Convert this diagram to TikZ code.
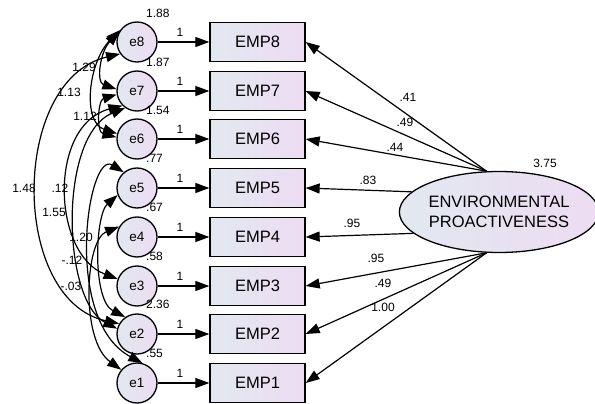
\documentclass[tikz,border=0pt]{standalone}
\usepackage{fontspec}
\setmainfont{Liberation Sans}
\usepackage{tikz}
\usetikzlibrary{shapes,arrows.meta,positioning}

\definecolor{FillL}{RGB}{226,232,240}
\definecolor{FillR}{RGB}{237,220,243}

\begin{document}
\begin{tikzpicture}[x=1pt,y=-1pt]
			\tikzstyle{Err}		= [circle, draw, line width=1.3pt, minimum size=40pt, inner sep=0pt, left color=FillL, right color=FillR, font=\fontsize{13.5}{15}\selectfont]
			\tikzstyle{Obs}		= [rectangle, draw, line width=1.3pt, minimum width=95pt, minimum height=39pt, inner sep=0pt, left color=FillL, right color=FillR, font=\fontsize{16.5}{19}\selectfont]
			\tikzstyle{Latent}	= [ellipse, draw, line width=1.3pt, minimum width=192pt, minimum height=81pt, inner sep=0pt, left color=FillL, right color=FillR, align=center, font=\fontsize{16.5}{20}\selectfont]
			\tikzstyle{Num}		= [inner sep=0pt, font=\fontsize{12}{13}\selectfont]
			\tikzstyle{Arrow}	= [line width=1.2pt, -{Triangle[length=14pt,width=10pt]}]
			\tikzstyle{Cov}		= [line width=1.2pt, {Triangle[length=14pt,width=10pt]}-{Triangle[length=14pt,width=10pt]}]

			\useasboundingbox (0,0) rectangle (595,404);

			% error terms
			\node (e8) at (137,42) [Err] {e8};
			\node (e7) at (137,91) [Err] {e7};
			\node (e6) at (137,139) [Err] {e6};
			\node (e5) at (137,188) [Err] {e5};
			\node (e4) at (137,237) [Err] {e4};
			\node (e3) at (137,286) [Err] {e3};
			\node (e2) at (137,334) [Err] {e2};
			\node (e1) at (137,383) [Err] {e1};

			% indicators
			\node (emp8) at (257.5,42) [Obs] {EMP8};
			\node (emp7) at (257.5,91) [Obs] {EMP7};
			\node (emp6) at (257.5,139) [Obs] {EMP6};
			\node (emp5) at (257.5,188) [Obs] {EMP5};
			\node (emp4) at (257.5,237) [Obs] {EMP4};
			\node (emp3) at (257.5,286) [Obs] {EMP3};
			\node (emp2) at (257.5,334) [Obs] {EMP2};
			\node (emp1) at (257.5,383) [Obs] {EMP1};

			\node (pv) at (499,212) [Latent] {ENVIRONMENTAL\\PROACTIVENESS};

			% variances
			\node (v8) at (146,13) [Num, anchor=west] {1.88};
			\node (v7) at (146,62) [Num, anchor=west] {1.87};
			\node (v6) at (146,110) [Num, anchor=west] {1.54};
			\node (v5) at (146,158) [Num, anchor=west] {.77};
			\node (v4) at (146,207) [Num, anchor=west] {.67};
			\node (v3) at (146,256) [Num, anchor=west] {.58};
			\node (v2) at (146,304) [Num, anchor=west] {2.36};
			\node (v1) at (146,353) [Num, anchor=west] {.55};
			\node (vpv) at (545,163) [Num] {3.75};

			% error paths
			\draw [Arrow] (e8) to (emp8);
			\draw [Arrow] (e7) to (emp7);
			\draw [Arrow] (e6) to (emp6);
			\draw [Arrow] (e5) to (emp5);
			\draw [Arrow] (e4) to (emp4);
			\draw [Arrow] (e3) to (emp3);
			\draw [Arrow] (e2) to (emp2);
			\draw [Arrow] (e1) to (emp1);
			\node (w8) at (180,32) [Num] {1};
			\node (w7) at (180,81) [Num] {1};
			\node (w6) at (180,129) [Num] {1};
			\node (w5) at (180,178) [Num] {1};
			\node (w4) at (180,227) [Num] {1};
			\node (w3) at (180,276) [Num] {1};
			\node (w2) at (180,324) [Num] {1};
			\node (w1) at (180,373) [Num] {1};

			% loadings
			\draw [Arrow] (pv.107) to (emp8.east);
			\draw [Arrow] (pv.107) to (emp7.east);
			\draw [Arrow] (pv.107) to (emp6.east);
			\draw [Arrow] (pv.167) to (emp5.east);
			\draw [Arrow] (pv.194) to (emp4.east);
			\draw [Arrow] (pv.253) to (emp3.east);
			\draw [Arrow] (pv.253) to (emp2.east);
			\draw [Arrow] (pv.253) to (emp1.east);
			\node (l8) at (408,97) [Num] {.41};
			\node (l7) at (405,122) [Num] {.49};
			\node (l6) at (395,147) [Num] {.44};
			\node (l5) at (368,180) [Num] {.83};
			\node (l4) at (352,223) [Num] {.95};
			\node (l3) at (376,258) [Num] {.95};
			\node (l2) at (383,283) [Num] {.49};
			\node (l1) at (383,307) [Num] {1.00};

			% covariances
			\draw [Cov] (e8.150) .. controls (100,52) and (96,82) .. (e7.175);
			\draw [Cov] (e8.145) .. controls (88,62) and (82,122) .. (e6.165);
			\draw [Cov] (e7.190) .. controls (98,100) and (96,132) .. (e6.175);
			\draw [Cov] (e8.215) .. controls (10,80) and (10,300) .. (e2.150);
			\draw [Cov] (e7.225) .. controls (48,125) and (52,254) .. (e3.160);
			\draw [Cov] (e7.235) .. controls (58,135) and (62,300) .. (e2.165);
			\draw [Cov] (e5.200) .. controls (95,215) and (92,300) .. (e2.125);
			\draw [Cov] (e5.130) .. controls (88,150) and (62,320) .. (e1.75);
			\draw [Cov] (e4.150) .. controls (85,240) and (80,340) .. (e1.140);
			\node (c87) at (84,67) [Num] {1.29};
			\node (c86) at (69,92) [Num] {1.13};
			\node (c76) at (85,116) [Num] {1.12};
			\node (c82) at (24,188) [Num] {1.48};
			\node (c73) at (60,188) [Num] {.12};
			\node (c72) at (54,212) [Num] {1.55};
			\node (c52) at (81,237) [Num] {1.20};
			\node (c51) at (72,260) [Num] {-.12};
			\node (c41) at (71,286) [Num] {-.03};
		\end{tikzpicture}
\end{document}
